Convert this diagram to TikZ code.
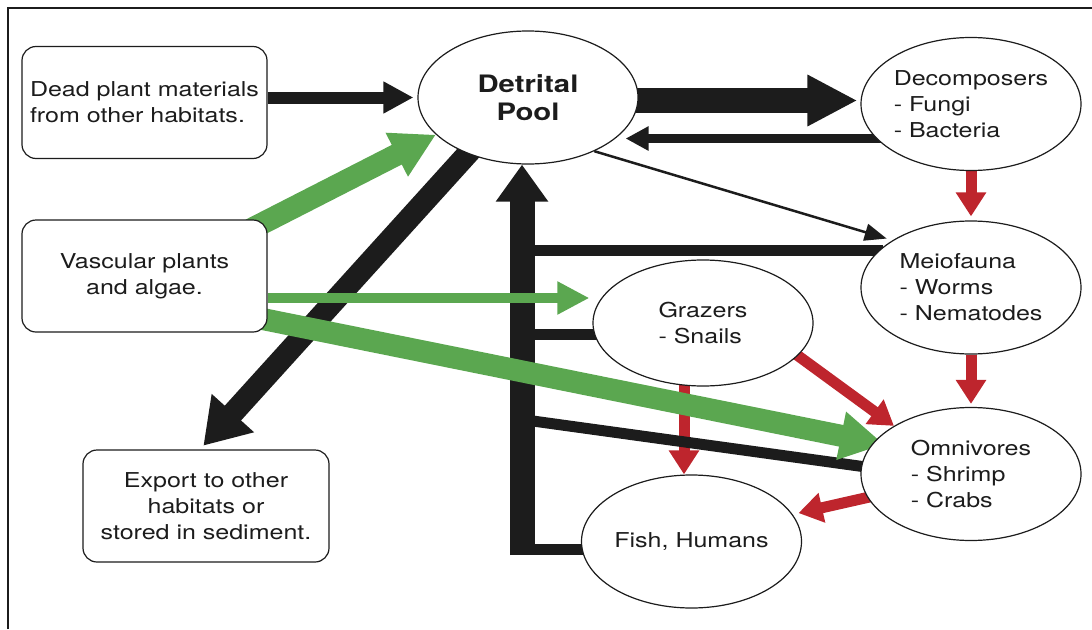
\documentclass[tikz,border=0pt]{standalone}
\usepackage{fontspec}
\setmainfont{TeX Gyre Heros}[FakeStretch=1.22]
\usepackage{tikz}
\usetikzlibrary{shapes.geometric,arrows.meta,backgrounds}
\definecolor{ink}{RGB}{28,28,28}
\definecolor{leafgreen}{RGB}{91,167,80}
\definecolor{preyred}{RGB}{190,37,45}

\begin{document}
\begin{tikzpicture}[x=1pt,y=-1pt,
	pool/.style={ellipse,draw=ink,fill=white,line width=1.2pt,inner sep=0pt,
		minimum width=220pt,minimum height=133pt,align=left,text=ink,
		font=\fontsize{20.5}{26}\selectfont},
	habitat/.style={rectangle,rounded corners=14pt,draw=ink,fill=white,line width=1.2pt,
		inner sep=0pt,minimum width=245pt,minimum height=112pt,align=center,text=ink,
		font=\fontsize{20.5}{26}\selectfont},
	feed/.style={draw=ink,line width=11pt},
	trunk/.style={draw=ink,line width=25pt,-{Triangle[length=37pt,width=50pt]}},
	thinflow/.style={draw=ink,line width=2.5pt,-{Triangle[length=22pt,width=17pt]}},
	inflow/.style={draw=ink,line width=12pt,-{Triangle[length=30pt,width=30pt]}},
	bigflow/.style={draw=ink,line width=25pt,-{Triangle[length=50pt,width=48pt]}},
	backflow/.style={draw=ink,line width=9.5pt,-{Triangle[length=23pt,width=23pt]}},
	exportflow/.style={draw=ink,line width=22pt,-{Triangle[length=44pt,width=54pt]}},
	preyflow/.style={draw=preyred,line width=11pt,-{Triangle[length=24pt,width=29pt]}},
	greenthin/.style={draw=leafgreen,line width=10pt,-{Triangle[length=32pt,width=31pt]}},
	greenbig/.style={draw=leafgreen,line width=22pt,-{Triangle[length=44pt,width=46pt]}}]
	\useasboundingbox (0,0) rectangle (1092,629);
	\draw[ink,line width=1.5pt] (8,629) -- (8,8) -- (1092,8);

	% boxes and pools
	\node[habitat,align=left] (dead) at (144.5,102.5) {Dead plant materials\\from other habitats.};
	\node[habitat] (vasc) at (144.5,276) {Vascular plants\\and algae.};
	\node[habitat,minimum width=246pt] (export) at (206,506) {Export to other\\habitats or\\stored in sediment.};
	\node[pool,align=center,font=\fontsize{24}{28}\selectfont\bfseries] (detr) at (528,97.5) {Detrital\\Pool};
	\node[pool] (decomp) at (971,104) {Decomposers\\- Fungi\\- Bacteria};
	\node[pool] (meio) at (971,287.5) {Meiofauna\\- Worms\\- Nematodes};
	\node[pool] (omni) at (971,474) {Omnivores\\- Shrimp\\- Crabs};
	\node[pool,minimum height=126pt] (graz) at (703,323) {Grazers\\- Snails};
	\node[pool,align=center] (fish) at (691.5,541.5) {Fish, Humans};
	\coordinate (bar) at (522,555);
	\coordinate (jomni) at (522,419.5);

	\begin{pgfonlayer}{background}
	\draw[preyflow,shorten >=4pt] (decomp.south) -- (meio.north);
	\draw[preyflow,shorten >=3pt] (meio.south) -- (omni.north);
	\draw[preyflow,shorten <=-6pt] (graz.-19) -- (omni.148);
	\draw[preyflow] ([xshift=-19pt]graz.center) -- ([xshift=-19pt]graz.south |- fish.north);
	\draw[preyflow,shorten >=6pt] (omni.center) -- (fish.15);

	\draw[feed,shorten <=-4pt] (meio.158) -- (meio.158 -| bar);
	\draw[feed,shorten <=-4pt] (graz.186) -- (graz.186 -| bar);
	\draw[feed,shorten <=-4pt] (omni.176) -- (jomni);
	\draw[feed,shorten <=-4pt] (fish.184) -- (fish.184 -| bar);
	\draw[trunk] (bar) -- ([xshift=-6pt]detr.south);
	\draw[inflow,shorten >=4pt] (dead.east |- detr) -- (detr.west);
	\draw[bigflow,shorten <=-4pt,shorten >=3pt] ([yshift=-3pt]detr.east) -- ([yshift=-3pt]detr.east -| decomp.west);
	\draw[backflow,shorten <=-6pt] (decomp.200) -- ([xshift=-13pt]decomp.200 -| detr.east);
	\draw[thinflow,shorten >=6pt] (detr.-39) -- (meio.149);
	\draw[exportflow,shorten <=-12pt,shorten >=5pt] (detr.223) -- ([xshift=-6pt]export.north);

	\draw[greenthin,shorten >=3pt] ([yshift=-22pt]vasc.east) -- ([yshift=-22pt]vasc.east -| graz.west);
	\draw[greenbig] ([shift={(-17,10)}]vasc.north east) -- (detr.202);
	\draw[greenbig,shorten >=-11pt] ([shift={(-10,42)}]vasc.east) -- (omni.162);
	\end{pgfonlayer}
\end{tikzpicture}
\end{document}
